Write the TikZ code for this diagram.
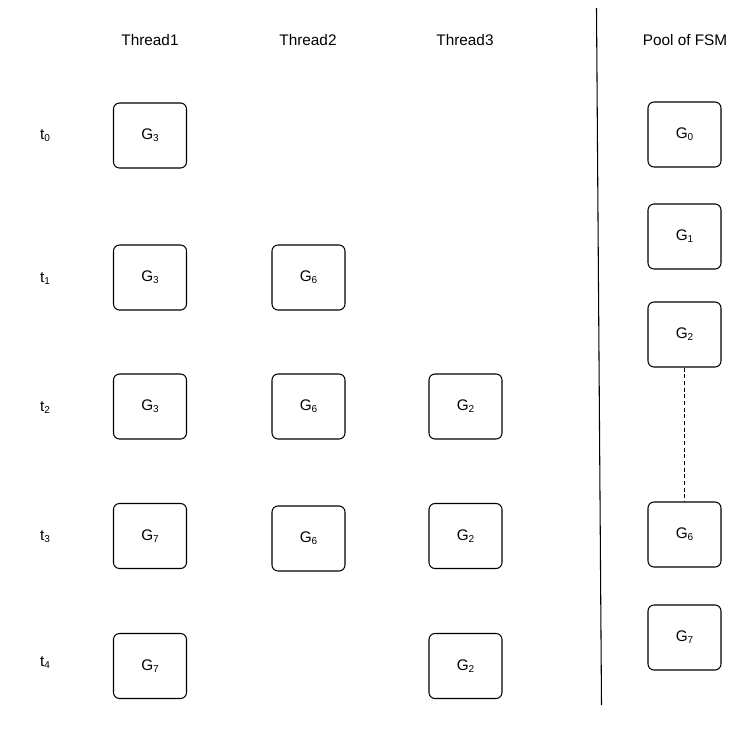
\documentclass[tikz,border=0pt]{standalone}
\usepackage{fontspec}
\setmainfont{Liberation Sans}
\usepackage{tikz}

\newcommand{\lowidx}[1]{\raisebox{-0.25ex}{\fontsize{7.5}{8}\selectfont #1}}

\tikzset{
    fsm/.style={draw, rounded corners=4.5pt, line width=0.8pt, minimum width=54.75pt, minimum height=48.75pt, inner sep=0pt, font=\fontsize{11.5}{13}\selectfont},
    lbl/.style={font=\fontsize{11.5}{13}\selectfont}
}

\begin{document}
\begin{tikzpicture}[x=0.75pt, y=-0.75pt]
        \useasboundingbox (0,0) rectangle (730,733);

        % Column headers
        \node[lbl] (h1) at (150,40) {Thread1};
        \node[lbl] (h2) at (308,40) {Thread2};
        \node[lbl] (h3) at (465,40) {Thread3};
        \node[lbl] (hp) at (685,40) {Pool of FSM};

        % Time labels
        \node[lbl] (t0) at (45,136) {t\lowidx{0}};
        \node[lbl] (t1) at (45,279) {t\lowidx{1}};
        \node[lbl] (t2) at (45,408) {t\lowidx{2}};
        \node[lbl] (t3) at (45,537) {t\lowidx{3}};
        \node[lbl] (t4) at (45,663) {t\lowidx{4}};

        % Thread1
        \node[fsm] (a0) at (150,135.5) {G\lowidx{3}};
        \node[fsm] (a1) at (150,277.5) {G\lowidx{3}};
        \node[fsm] (a2) at (150,406.5) {G\lowidx{3}};
        \node[fsm] (a3) at (150,536) {G\lowidx{7}};
        \node[fsm] (a4) at (150,666) {G\lowidx{7}};

        % Thread2
        \node[fsm] (b1) at (308.5,277.5) {G\lowidx{6}};
        \node[fsm] (b2) at (308.5,406.5) {G\lowidx{6}};
        \node[fsm] (b3) at (308.5,538.5) {G\lowidx{6}};

        % Thread3
        \node[fsm] (c2) at (465.5,406.5) {G\lowidx{2}};
        \node[fsm] (c3) at (465.5,536) {G\lowidx{2}};
        \node[fsm] (c4) at (465.5,666) {G\lowidx{2}};

        % Separator
        \coordinate (top) at (596.5,8);
        \coordinate (bot) at (601.5,705);
        \draw[line width=0.8pt] (top) -- (bot);

        % Pool of FSM
        \node[fsm] (p0) at (684.5,134.5) {G\lowidx{0}};
        \node[fsm] (p1) at (684.5,236.5) {G\lowidx{1}};
        \node[fsm] (p2) at (684.5,334.5) {G\lowidx{2}};
        \node[fsm] (p6) at (684.5,534.5) {G\lowidx{6}};
        \node[fsm] (p7) at (684.5,637.5) {G\lowidx{7}};

        \draw[line width=0.8pt, dash pattern=on 3pt off 2pt] (p2) -- (p6);
    \end{tikzpicture}
\end{document}
